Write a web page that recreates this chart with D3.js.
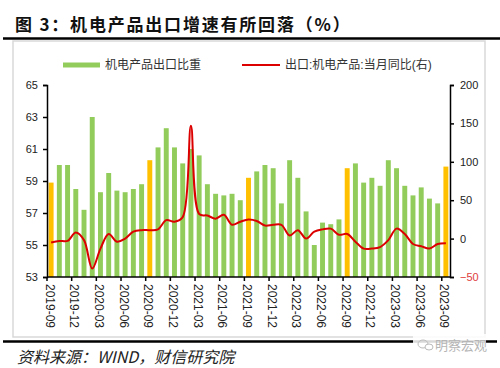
<!DOCTYPE html>
<html>
<head>
<meta charset="utf-8">
<script src="https://cdn.jsdelivr.net/npm/d3@7/dist/d3.min.js"></script>
<style>
body{margin:0;background:#fff;}
text{font-family:"Liberation Sans","Noto Sans CJK SC",sans-serif;}
</style>
</head>
<body>
<svg width="500" height="368"></svg>
<script>
// months, Sept 2019 .. Sept 2023
const months=["2019-09","2019-10","2019-11","2019-12","2020-01","2020-02","2020-03","2020-04","2020-05","2020-06","2020-07","2020-08",
"2020-09","2020-10","2020-11","2020-12","2021-01","2021-02","2021-03","2021-04","2021-05","2021-06","2021-07","2021-08",
"2021-09","2021-10","2021-11","2021-12","2022-01","2022-02","2022-03","2022-04","2022-05","2022-06","2022-07","2022-08",
"2022-09","2022-10","2022-11","2022-12","2023-01","2023-02","2023-03","2023-04","2023-05","2023-06","2023-07","2023-08","2023-09"]
// 机电产品出口比重 (%)
const share=[58.9,60.0,60.0,58.5,57.2,63.0,58.3,59.5,58.4,58.3,58.5,58.8,
60.3,61.1,62.3,61.1,60.1,61.0,60.6,58.8,58.2,58.1,58.2,57.8,
59.2,59.6,60.0,59.8,57.6,60.3,59.2,57.1,55.0,56.4,56.3,56.6,
59.8,60.1,58.9,59.2,58.7,60.3,59.8,58.7,58.1,58.6,57.9,57.6,59.9]
// 出口:机电产品:当月同比 (%)
const yoy=[-5,-3,-3,8,-2,-39,-13,6,-4,0,9,11,
11,12,24,22,28,147,32,30,26,31,18,22,
25,23,17,18,18,4,11,0,9,12,13,5,
6,-4,-13,-13,-11,-2,13,6,-7,-10,-13,-7,-6]
const leftTicks=[53,55,57,59,61,63,65]
const rightTicks=[-50,0,50,100,150,200]

const svg=d3.select("svg")
const plot={left:47,right:450,top:85,bottom:277}

svg.append("rect").attr("width",500).attr("height",368).attr("fill","#fff")

// title
svg.append("text").attr("x",15).attr("y",31)
  .attr("font-size",17).attr("font-weight",700).attr("letter-spacing",1.8)
  .attr("fill","#111").style("font-family","'Noto Sans CJK SC',sans-serif")
  .text("图 3：机电产品出口增速有所回落（%）")
svg.append("line").attr("x1",3).attr("x2",500).attr("y1",38.5).attr("y2",38.5)
  .attr("stroke","#000").attr("stroke-width",2.5)

// frame
svg.append("rect").attr("x",13).attr("y",41).attr("width",472).attr("height",296)
  .attr("fill","none").attr("stroke","#d9d9d9").attr("stroke-width",1.5)

const x=d3.scaleBand().domain(months).range([plot.left,plot.right]).paddingInner(0.4).paddingOuter(0.2)
const xs=d3.scaleBand().domain(months).range([plot.left,plot.right])
const yl=d3.scaleLinear().domain([53,65]).range([plot.bottom,plot.top])
const yr=d3.scaleLinear().domain([-50,200]).range([plot.bottom,plot.top])

svg.append("g").selectAll("rect").data(months).enter().append("rect")
  .attr("x",d=>x(d)).attr("width",x.bandwidth())
  .attr("y",(d,i)=>yl(share[i])).attr("height",(d,i)=>yl(53)-yl(share[i]))
  .attr("fill",d=>d.endsWith("-09")?"#ffc000":"#92cd5c")

const line=d3.line().x((d,i)=>xs(months[i])+xs.bandwidth()/2).y(d=>yr(d)).curve(d3.curveCatmullRom.alpha(0.5))
svg.append("path").datum(yoy).attr("d",line).attr("fill","none")
  .attr("stroke","#dc0000").attr("stroke-width",2)

// left axis
const la=svg.append("g").attr("transform","translate("+plot.left+",0)")
  .call(d3.axisLeft(yl).tickValues(leftTicks).tickSize(4).tickPadding(5))
la.selectAll("text").attr("font-size",11).attr("fill","#222").style("font-family","'Liberation Sans',sans-serif")
la.selectAll("line,path").attr("stroke","#000").attr("stroke-width",1.5)

// right axis
const ra=svg.append("g").attr("transform","translate("+plot.right+",0)")
  .call(d3.axisRight(yr).tickValues(rightTicks).tickSize(4).tickPadding(6))
ra.selectAll("text").attr("font-size",11).attr("fill",d=>d<0?"#e03c3c":"#222").style("font-family","'Liberation Sans',sans-serif")
ra.selectAll("line,path").attr("stroke","#000").attr("stroke-width",1.5)

// bottom axis
const labelMonths=months.filter((d,i)=>i%3==0)
const ba=svg.append("g").attr("transform","translate(0,"+plot.bottom+")")
ba.append("line").attr("x1",plot.left).attr("x2",plot.right).attr("stroke","#000").attr("stroke-width",1.5)
ba.selectAll("line.tick").data(labelMonths).enter().append("line").attr("class","tick")
  .attr("x1",d=>xs(d)).attr("x2",d=>xs(d)).attr("y1",0).attr("y2",4)
  .attr("stroke","#000").attr("stroke-width",1.5)
ba.selectAll("text").data(labelMonths).enter().append("text")
  .attr("transform",d=>"translate("+(xs(d)+2.5)+",7) rotate(90)")
  .attr("dominant-baseline","central").attr("font-size",12).attr("fill","#222")
  .style("font-family","'Liberation Sans',sans-serif")
  .text(d=>d)

// legend
svg.append("rect").attr("x",63).attr("y",62.5).attr("width",37).attr("height",5).attr("fill","#92cd5c")
svg.append("text").attr("x",105).attr("y",65).attr("dominant-baseline","central")
  .attr("font-size",12).attr("fill","#333").text("机电产品出口比重")
svg.append("line").attr("x1",242).attr("x2",280).attr("y1",65).attr("y2",65).attr("stroke","#dc0000").attr("stroke-width",2)
svg.append("text").attr("x",285).attr("y",65).attr("dominant-baseline","central")
  .attr("font-size",12).attr("fill","#333").text("出口:机电产品:当月同比(右)")

// bottom rule, source, watermark
svg.append("line").attr("x1",3).attr("x2",497).attr("y1",341.5).attr("y2",341.5)
  .attr("stroke","#000").attr("stroke-width",2.5)
svg.append("text").attr("x",17).attr("y",363).attr("font-size",16).attr("font-style","italic")
  .attr("fill","#222").style("font-family","'Noto Sans CJK SC',serif")
  .text("资料来源：WIND，财信研究院")
svg.append("rect").attr("x",413).attr("y",334).attr("width",73).attr("height",20).attr("fill","#fff").attr("opacity",0.85)
svg.append("ellipse").attr("cx",423).attr("cy",344).attr("rx",5).attr("ry",4).attr("fill","none").attr("stroke","#bbb")
svg.append("ellipse").attr("cx",429).attr("cy",347).attr("rx",4).attr("ry",3).attr("fill","#fff").attr("stroke","#bbb")
svg.append("text").attr("x",435).attr("y",350).attr("font-size",13).attr("fill","#b5b5b5")
  .style("font-family","'Noto Sans CJK SC',sans-serif").text("明察宏观")
</script>
</body>
</html>
